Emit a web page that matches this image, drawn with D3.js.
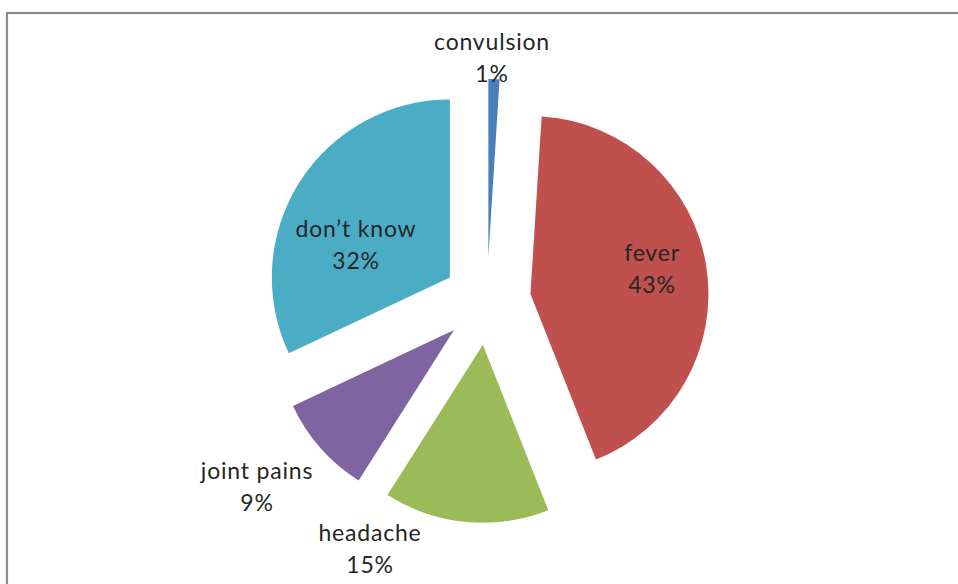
<!DOCTYPE html>
<html>
<head>
<meta charset="utf-8">
<script src="https://cdn.jsdelivr.net/npm/d3@7"></script>
<style>
  html, body { margin: 0; padding: 0; background: #fff; }
  svg { display: block; }
  text { font-family: Lato, "Open Sans", sans-serif; fill: #262626; }
</style>
</head>
<body>
<svg id="chart" width="958" height="584"></svg>
<script>
// Reported symptoms, share of respondents (%)
const categories = ["convulsion", "fever", "headache", "joint pains", "don\u2019t know"];
const values = [1, 43, 15, 9, 32];
const valueLabels = ["1%", "43%", "15%", "9%", "32%"];
const colors = ["#4A7EBB", "#C0504D", "#9BBB59", "#8064A2", "#4BACC6"];

// Label anchors, as offsets from the pie centre (layout only)
const labelOffsets = [[5, -235], [165, -24], [-117, 256], [-230, 194], [-131, -48]];

const W = 958, H = 584;
const cx = 487, cy = 301;
const radius = 178;
const explode = 44;

const svg = d3.select("#chart");

// chart area frame
svg.append("rect")
  .attr("x", 7).attr("y", 13)
  .attr("width", W + 20).attr("height", H + 20)
  .attr("fill", "none")
  .attr("stroke", "#8a8a8a")
  .attr("stroke-width", 2.2);

const data = categories.map((c, i) => ({ name: c, value: values[i], label: valueLabels[i], color: colors[i], off: labelOffsets[i] }));

const pie = d3.pie().value(d => d.value).sort(null).startAngle(0).endAngle(2 * Math.PI);
const arc = d3.arc().innerRadius(0).outerRadius(radius);

const g = svg.append("g").attr("transform", `translate(${cx},${cy})`);

// exploded slices: each pushed out along its mid-angle
g.selectAll("path.slice")
  .data(pie(data))
  .join("path")
  .attr("class", "slice")
  .attr("d", arc)
  .attr("fill", d => d.data.color)
  .attr("transform", d => {
    const mid = (d.startAngle + d.endAngle) / 2;
    return `translate(${explode * Math.sin(mid)},${-explode * Math.cos(mid)})`;
  });

const fs = 23, lh = 32;
const labels = g.selectAll("text.lbl")
  .data(data)
  .join("text")
  .attr("class", "lbl")
  .attr("text-anchor", "middle")
  .attr("font-size", fs)
  .attr("letter-spacing", 0.8);

labels.append("tspan")
  .attr("x", d => d.off[0])
  .attr("y", d => d.off[1] - lh / 2)
  .text(d => d.name);
labels.append("tspan")
  .attr("x", d => d.off[0])
  .attr("y", d => d.off[1] + lh / 2)
  .text(d => d.label);
</script>
</body>
</html>
